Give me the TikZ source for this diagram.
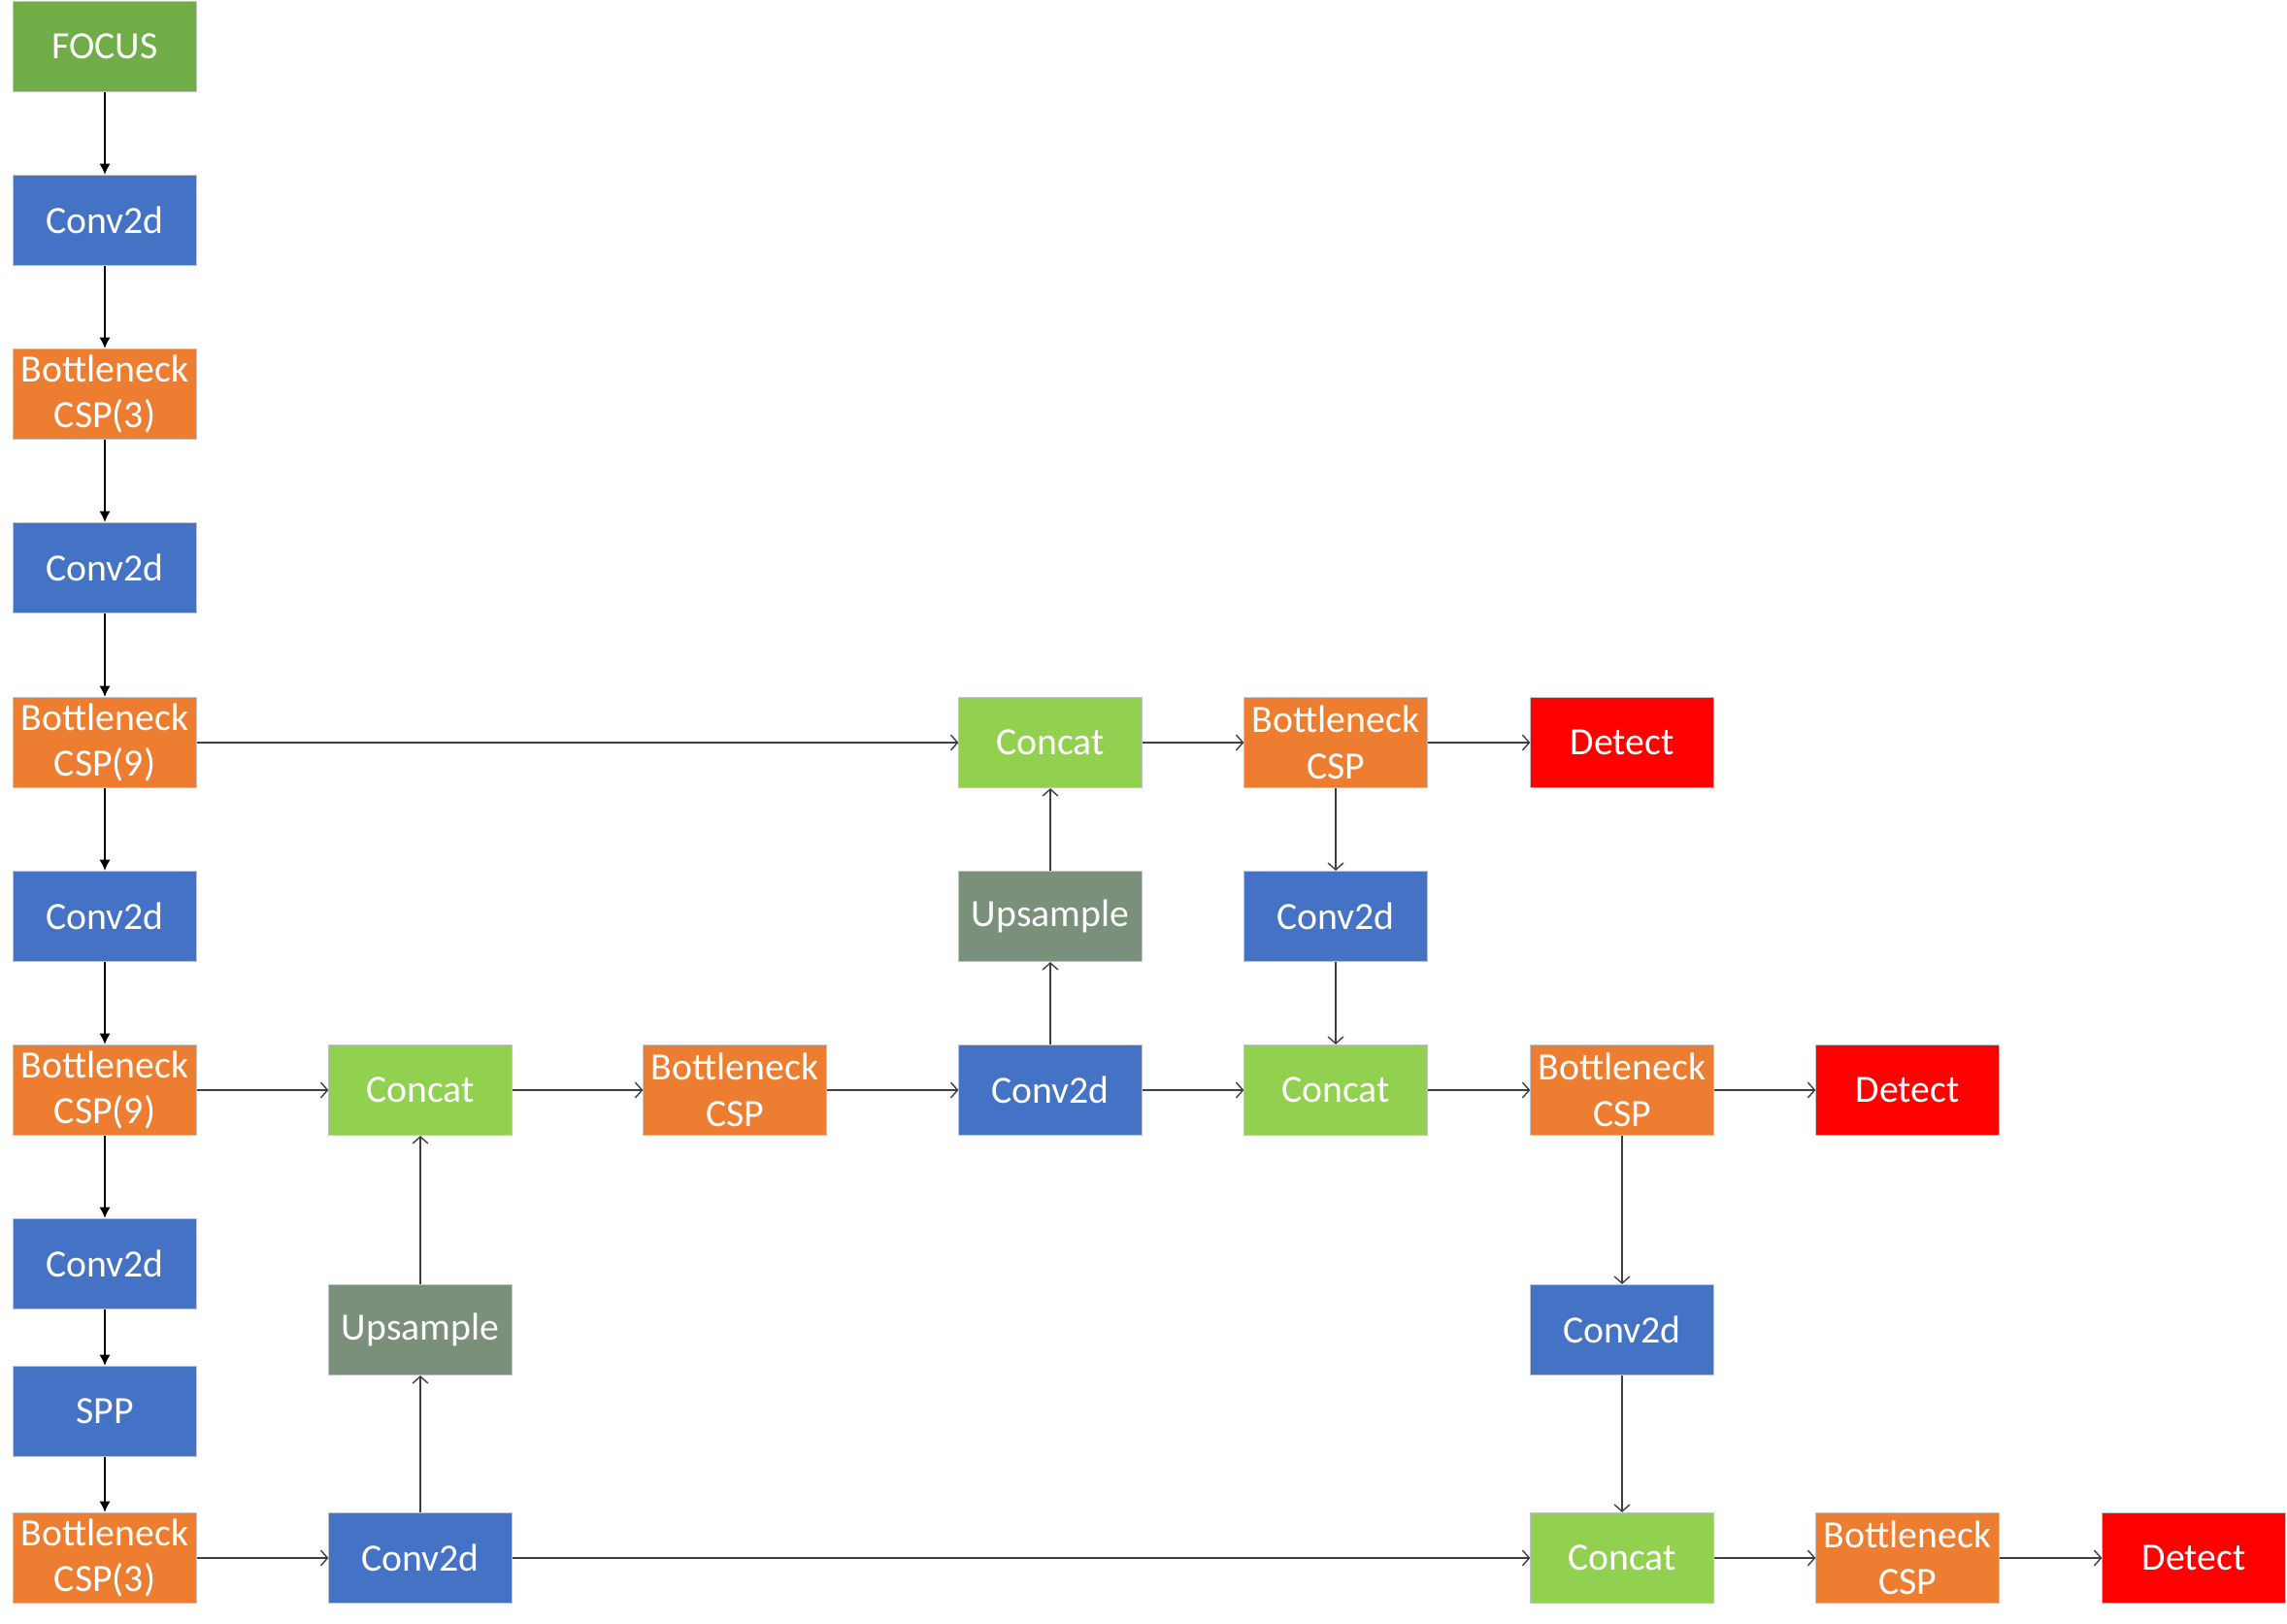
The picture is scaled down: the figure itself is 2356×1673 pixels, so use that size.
\documentclass[tikz,border=0pt]{standalone}
\usepackage{fontspec}
\setmainfont{Carlito}
\usepackage{xcolor}
\definecolor{FocusGreen}{HTML}{70AD47}
\definecolor{ConvBlue}{HTML}{4472C4}
\definecolor{CspOrange}{HTML}{ED7D31}
\definecolor{CatGreen}{HTML}{92D050}
\definecolor{UpGrey}{HTML}{7A907A}
\definecolor{DetRed}{HTML}{FF0000}
\definecolor{EdgeGrey}{HTML}{C0C4CC}
\definecolor{LinkGrey}{HTML}{404040}
\usetikzlibrary{arrows.meta, positioning}

\begin{document}
\begin{tikzpicture}[x=0.01cm, y=-0.01cm,
  blk/.style={rectangle, draw=EdgeGrey, line width=0.3pt, minimum width=1.88cm,
              minimum height=0.93cm, inner sep=1pt, align=center, text=white,
              font=\fontsize{11.3}{13.6}\selectfont},
  focus/.style={blk, fill=FocusGreen},
  conv/.style={blk, fill=ConvBlue},
  csp/.style={blk, fill=CspOrange},
  cat/.style={blk, fill=CatGreen},
  up/.style={blk, fill=UpGrey},
  det/.style={blk, fill=DetRed},
  bb/.style={-{Latex[length=3.2pt,width=3.2pt]}, line width=0.5pt, black},
  arr/.style={-{Straight Barb[length=2pt,width=4.5pt]}, line width=0.4pt, color=LinkGrey}
]
\useasboundingbox (0,0) rectangle (2356,1673);

%% ---- Backbone (x=108) ----
\node[focus] (focus)  at (108,  48) {FOCUS};
\node[conv]  (conv1)  at (108, 227) {Conv2d};
\node[csp]   (csp3a)  at (108, 406) {Bottleneck\\CSP(3)};
\node[conv]  (conv2)  at (108, 585) {Conv2d};
\node[csp]   (csp9a)  at (108, 765) {Bottleneck\\CSP(9)};
\node[conv]  (conv3)  at (108, 944) {Conv2d};
\node[csp]   (csp9b)  at (108,1123) {Bottleneck\\CSP(9)};
\node[conv]  (conv4)  at (108,1302) {Conv2d};
\node[conv]  (spp)    at (108,1454) {SPP};
\node[csp]   (csp3b)  at (108,1605) {Bottleneck\\CSP(3)};

%% ---- Head, row y=765 ----
\node[cat]   (catA)   at (1082, 765) {Concat};
\node[csp]   (cspA)   at (1376, 765) {Bottleneck\\CSP};
\node[det]   (detA)   at (1671, 765) {Detect};
\node[up]    (upA)    at (1082, 944) {Upsample};
\node[conv]  (convA)  at (1376, 944) {Conv2d};

%% ---- Head, row y=1123 ----
\node[cat]   (catB)   at ( 433,1123) {Concat};
\node[csp]   (cspB)   at ( 757,1123) {Bottleneck\\CSP};
\node[conv]  (convB)  at (1082,1123) {Conv2d};
\node[cat]   (catC)   at (1376,1123) {Concat};
\node[csp]   (cspC)   at (1671,1123) {Bottleneck\\CSP};
\node[det]   (detC)   at (1965,1123) {Detect};
\node[up]    (upB)    at ( 433,1370) {Upsample};
\node[conv]  (convC)  at (1671,1370) {Conv2d};

%% ---- Head, row y=1605 ----
\node[conv]  (convD)  at ( 433,1605) {Conv2d};
\node[cat]   (catD)   at (1671,1605) {Concat};
\node[csp]   (cspD)   at (1965,1605) {Bottleneck\\CSP};
\node[det]   (detD)   at (2260,1605) {Detect};

%% ---- Backbone arrows ----
\draw[bb] (focus) -- (conv1);
\draw[bb] (conv1) -- (csp3a);
\draw[bb] (csp3a) -- (conv2);
\draw[bb] (conv2) -- (csp9a);
\draw[bb] (csp9a) -- (conv3);
\draw[bb] (conv3) -- (csp9b);
\draw[bb] (csp9b) -- (conv4);
\draw[bb] (conv4) -- (spp);
\draw[bb] (spp)   -- (csp3b);

%% ---- Head arrows ----
\draw[arr] (csp9a) -- (catA);
\draw[arr] (catA)  -- (cspA);
\draw[arr] (cspA)  -- (detA);
\draw[arr] (cspA)  -- (convA);
\draw[arr] (convA) -- (catC);

\draw[arr] (csp9b) -- (catB);
\draw[arr] (catB)  -- (cspB);
\draw[arr] (cspB)  -- (convB);
\draw[arr] (convB) -- (catC);
\draw[arr] (catC)  -- (cspC);
\draw[arr] (cspC)  -- (detC);
\draw[arr] (convB) -- (upA);
\draw[arr] (upA)   -- (catA);
\draw[arr] (cspC)  -- (convC);
\draw[arr] (convC) -- (catD);

\draw[arr] (csp3b) -- (convD);
\draw[arr] (convD) -- (catD);
\draw[arr] (catD)  -- (cspD);
\draw[arr] (cspD)  -- (detD);
\draw[arr] (convD) -- (upB);
\draw[arr] (upB)   -- (catB);

\end{tikzpicture}
\end{document}
